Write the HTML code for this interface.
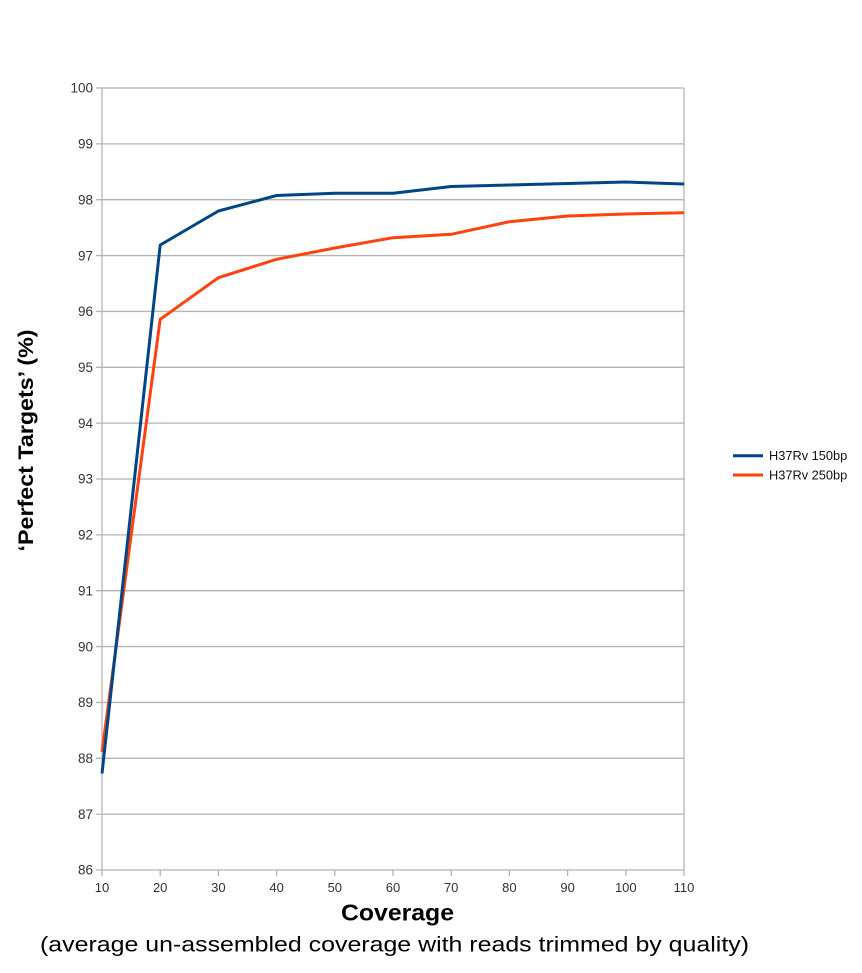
<!DOCTYPE html>
<html><head><meta charset="utf-8"><style>
html,body{margin:0;padding:0;background:#fff;}
svg{display:block;}
text{font-family:"Liberation Sans",Arial,sans-serif;}
</style></head><body>
<svg width="862" height="973" viewBox="0 0 862 973" xmlns="http://www.w3.org/2000/svg">
<rect width="862" height="973" fill="#fff"/>
<g stroke="#b3b3b3" stroke-width="1.3" fill="none">
<line x1="96" y1="88" x2="684" y2="88"/>
<line x1="96" y1="143.86" x2="684" y2="143.86"/>
<line x1="96" y1="199.71" x2="684" y2="199.71"/>
<line x1="96" y1="255.57" x2="684" y2="255.57"/>
<line x1="96" y1="311.43" x2="684" y2="311.43"/>
<line x1="96" y1="367.29" x2="684" y2="367.29"/>
<line x1="96" y1="423.14" x2="684" y2="423.14"/>
<line x1="96" y1="479" x2="684" y2="479"/>
<line x1="96" y1="534.86" x2="684" y2="534.86"/>
<line x1="96" y1="590.71" x2="684" y2="590.71"/>
<line x1="96" y1="646.57" x2="684" y2="646.57"/>
<line x1="96" y1="702.43" x2="684" y2="702.43"/>
<line x1="96" y1="758.29" x2="684" y2="758.29"/>
<line x1="96" y1="814.14" x2="684" y2="814.14"/>
<line x1="96" y1="870" x2="684" y2="870"/>
<line x1="102" y1="88" x2="102" y2="876"/>
<line x1="684" y1="88" x2="684" y2="876"/>
<line x1="160.2" y1="870" x2="160.2" y2="876"/>
<line x1="218.4" y1="870" x2="218.4" y2="876"/>
<line x1="276.6" y1="870" x2="276.6" y2="876"/>
<line x1="334.8" y1="870" x2="334.8" y2="876"/>
<line x1="393" y1="870" x2="393" y2="876"/>
<line x1="451.2" y1="870" x2="451.2" y2="876"/>
<line x1="509.4" y1="870" x2="509.4" y2="876"/>
<line x1="567.6" y1="870" x2="567.6" y2="876"/>
<line x1="625.8" y1="870" x2="625.8" y2="876"/>
</g>
<g font-size="13.5" fill="#333" text-anchor="end">
<text x="93" y="92.7">100</text>
<text x="93" y="148.6">99</text>
<text x="93" y="204.4">98</text>
<text x="93" y="260.3">97</text>
<text x="93" y="316.1">96</text>
<text x="93" y="372">95</text>
<text x="93" y="427.8">94</text>
<text x="93" y="483.7">93</text>
<text x="93" y="539.6">92</text>
<text x="93" y="595.4">91</text>
<text x="93" y="651.3">90</text>
<text x="93" y="707.1">89</text>
<text x="93" y="763">88</text>
<text x="93" y="818.8">87</text>
<text x="93" y="874.7">86</text>
</g>
<g font-size="13" fill="#333" text-anchor="middle">
<text x="102" y="892">10</text>
<text x="160.2" y="892">20</text>
<text x="218.4" y="892">30</text>
<text x="276.6" y="892">40</text>
<text x="334.8" y="892">50</text>
<text x="393" y="892">60</text>
<text x="451.2" y="892">70</text>
<text x="509.4" y="892">80</text>
<text x="567.6" y="892">90</text>
<text x="625.8" y="892">100</text>
<text x="684" y="892">110</text>
</g>
<polyline fill="none" stroke="#ff420e" stroke-width="3" stroke-linejoin="round" points="102,752 160.2,319.3 218.4,277.7 276.6,259.3 334.8,248 393,237.7 451.2,234.3 509.4,221.7 567.6,216 625.8,214 684,212.7"/>
<polyline fill="none" stroke="#004586" stroke-width="3" stroke-linejoin="round" points="102,773.5 160.2,245 218.4,211 276.6,195.5 334.8,193.3 393,193.3 451.2,186.5 509.4,185 567.6,183.5 625.8,182 684,184"/>
<line x1="733" y1="455.7" x2="763" y2="455.7" stroke="#004586" stroke-width="3"/>
<line x1="733" y1="475" x2="763" y2="475" stroke="#ff420e" stroke-width="3"/>
<g font-size="12.8" fill="#111">
<text x="769" y="460">H37Rv 150bp</text>
<text x="769" y="479.5">H37Rv 250bp</text>
</g>
<text transform="translate(33,440.5) rotate(-90)" text-anchor="middle" font-size="21" font-weight="bold" fill="#000" textLength="222" lengthAdjust="spacingAndGlyphs">‘Perfect Targets’ (%)</text>
<text x="397.5" y="920.7" text-anchor="middle" font-size="23.5" font-weight="bold" fill="#000" textLength="113" lengthAdjust="spacingAndGlyphs">Coverage</text>
<text x="40" y="951.5" font-size="21" fill="#000" textLength="709" lengthAdjust="spacingAndGlyphs">(average un-assembled coverage with reads trimmed by quality)</text>
</svg>
</body></html>
